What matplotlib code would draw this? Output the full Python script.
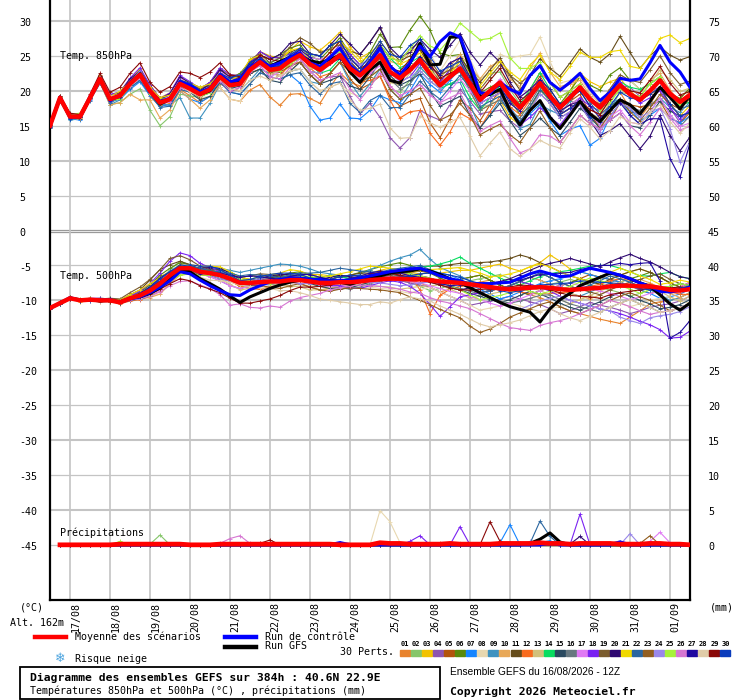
import numpy as np
import matplotlib
matplotlib.use("Agg")
import matplotlib.pyplot as plt
import matplotlib.patches as patches
import matplotlib.transforms as transforms
from matplotlib.lines import Line2D

# echeances toutes les 6h, 16/08 12Z -> 01/09 12Z
hours = np.arange(0, 385, 6)
p_hours = hours[1:]
day_hours = np.arange(12, 384, 24)
dates = ["17/08", "18/08", "19/08", "20/08", "21/08", "22/08", "23/08", "24/08",
         "25/08", "26/08", "27/08", "28/08", "29/08", "30/08", "31/08", "01/09"]

member_colors = ["#e8832e", "#86c66a", "#f2c200", "#8e55b0", "#b3540c", "#5a8a0a",
                 "#1685ff", "#e8d8b0", "#3e92c0", "#e8a858", "#654c1a", "#f86b1e",
                 "#d2c07a", "#08dd60", "#2a4a60", "#687880", "#e07af4", "#7a22f2",
                 "#7a5c2e", "#2e0870", "#f0d800", "#2a66a0", "#925e20", "#9a88ea",
                 "#a6f23a", "#d676d2", "#2008a0", "#e0cca8", "#8a0808", "#0a3cbc"]

# moyenne des scenarios
mean_850 = [15.0, 19.0, 16.3, 16.3, 19.0, 21.7, 18.8, 19.3, 21.0, 22.3, 20.0, 18.3, 18.8,
            21.0, 20.3, 19.5, 20.2, 22.0, 20.8, 21.0, 23.0, 24.1, 23.0, 23.2, 24.3, 25.1,
            23.8, 23.0, 24.0, 25.1, 23.2, 22.2, 23.5, 25.1, 22.7, 21.8, 23.0, 24.4, 22.4,
            20.8, 22.0, 23.2, 21.0, 18.7, 20.0, 21.2, 19.2, 17.6, 19.2, 21.1, 19.2, 17.6,
            19.0, 20.5, 18.8, 17.6, 19.3, 20.8, 19.5, 18.7, 20.0, 21.5, 19.6, 18.4, 19.4]
mean_500 = [-11.1, -10.4, -9.7, -10.0, -9.9, -10.0, -10.0, -10.3, -9.7, -9.3, -8.6, -7.6, -6.4,
            -5.4, -5.4, -5.9, -6.1, -6.4, -6.9, -7.5, -7.5, -7.4, -7.3, -7.3, -7.1, -7.1,
            -7.3, -7.5, -7.5, -7.4, -7.4, -7.3, -7.1, -7.0, -6.9, -6.9, -7.0, -7.0, -7.1,
            -7.3, -7.4, -7.5, -7.7, -7.9, -8.1, -8.3, -8.4, -8.3, -8.2, -8.1, -8.2, -8.4,
            -8.5, -8.4, -8.3, -8.2, -8.0, -7.9, -7.9, -8.0, -8.0, -8.2, -8.5, -8.6, -8.4]

# ecart de chaque perturbation a la moyenne, 850 hPa
dev_850 = [
    "0 .2 .1 -.2 .1 -.3 -.4 -.2 -.3 -.5 -.8 -.5 -.6  -.8 -1 -1.2 -1 -1.5 -2 -2.5 -2.9 -3.2 -3.9 -5.3 -4.8 -5.5  -4.9 -4.8 -3.5 -2.5 -2 -1.5 -1 -.5 0 .5 1 1.5 1  1.5 2 1.5 .5 -.5 -1 -1.5 -1 0 1 1.5 2 2.5  2 1.5 1 .5 0 -1 -2 -2.5 -2 -1 0 .5 1",  # 01
    ".3 .1 .2 0 .2 -.5 -.8 -1 -1.5 -2 -2.8 -3.3 -2.5  -1.5 -1 -.5 0 .5 .3 0 -.5 -1 -.5 0 .5 1  1.5 1 .5 0 -.5 -1 -1.5 -2 -2.5 -2 -1.5 -1 -.5  0 .5 1 2 3 2.5 1.5 1 .5 0 -.5 -1 -1.5  -2 -2.5 -3 -2.5 -2 -1 0 .5 1 .5 0 -.5 -1",  # 02
    "-.1 0 .2 .3 .1 .3 .5 .4 .6 .8 .5 .7 .9  1 .8 .5 .8 1 1.5 1.2 1 1.5 2 1.5 1.5 2  2.5 2.8 3 3.3 3 2.5 2 1.5 1 .5 0 .5 1  1.5 1 0 -1 -1.5 -2 -2.5 -3 -2.5 -2 -1 -.5 0  1 2 2.5 3 2 1 .5 0 -.5 -1 -1.5 -2 -1.5",  # 03
    "0 -.2 -.1 .1 0 .2 -.1 .3 .5 .2 -.3 -.5 -.2  0 .5 .3 0 -.5 -1 -.5 0 .5 1 .5 0 -.5  -1 -1.5 -2 -3 -4 -5.5 -5.3 -8.9 -9.4 -10 -9.7 -7.2 -6  -5 -4 -3 -2.5 -2 -3 -4 -3.5 -3 -2 -1.5 -1 -1.5  -2 -2.5 -3 -2 -1 0 1 .5 0 -1 -2 -3 -2",  # 04
    ".1 0 -.2 -.1 .2 0 .3 .1 -.2 .1 .4 .2 0  -.3 -.5 -.2 0 .3 .5 0 -.5 -1 -1.5 -1 -.5 -1  -1.5 -2 -1.5 -1 -1.5 -2 -2.5 -3 -3.5 -4 -4.5 -5.5 -7  -7.5 -6 -4.5 -3.5 -3 -2 -1 -.5 0 .5 1 .5 0  -.5 -1 -2 -3 -3.5 -2.5 -1.5 -1 -2 -3 -3.5 -3 -2.5",  # 05
    "0 .1 .3 .2 -.1 .2 .4 .5 .3 .6 .8 .5 .3  .5 .8 1 .7 .5 1 1.5 1.2 1 1.5 2 1.8 1.5  1 1.5 2 2.5 2 1.5 2 3 3.5 4.5 5.7 6.3 6.3  4.6 3 2 1.5 1 .5 0 -.5 -1 -1.5 -1 0 .5  1 1.5 2 2.5 3 2.5 2 1.5 1 .5 0 .5 1",  # 06
    "-.2 -.4 -.3 -.5 -.3 -.6 -.4 -.5 -.8 -1 -.7 -.5 -.8  -1 -1.5 -1.2 -1 -.5 -1 -1.5 -2 -1.5 -1 -1.5 -2 -4  -6 -7.2 -7.9 -7 -7.1 -6.2 -6.3 -5.8 -4 -3.5 -3 -2 -1.5  -1 -.5 0 .5 0 -.5 -1 -1.5 -2 -2.5 -3 -3.5 -4  -4.5 -5.5 -6.6 -4.4 -3 -2.5 -2 -3 -3.5 -4 -3.5 -3 -3",  # 07
    ".1 .3 .2 .1 .3 .5 .3 .2 .5 .3 .1 .4 .2  0 -.3 -.5 -1 -1.5 -2 -2.5 -2 -1.5 -1 -.5 -1 -2  -2.5 -3 -3.5 -4 -3.5 -3 -2.5 -2 -1 0 1 2 3  2 3 4 3.5 3 2.5 4 5.5 7.4 6 6.6 5 3.5  2.5 1.5 1 .5 0 1 2 1.5 1 .5 0 -1 -1.5",  # 08
    "-.3 -.2 -.5 -.3 -.2 -.5 -.8 -.6 -.5 -.8 -.5 -.3 -.8  -2 -4.2 -3.4 -2 -1 -.5 -1 -1.5 -1 -.5 -1 -1.5 -2  -2.5 -2 -1.5 -1 -2 -3 -2.5 -2 -2.5 -3 -2 -1 -.5  0 -1 -2 -3 -4 -3.5 -2.5 -2 -3 -4 -3 -2 -1  -.5 0 .5 0 -1 -2 -3 -3.5 -3 -2.5 -2 -1.5 -1",  # 09
    "0 -.3 -.1 -.4 -.2 -.6 -.8 -1 -1.5 -3.6 -1.3 -2.2 -1.5  -1 -1.5 -2 -1.5 -1 -.5 0 .5 1 .5 0 -.5 -1  -.5 0 .5 1 1.5 1 .5 1 1.5 2 2.5 2 1.5  1 1.5 2 2.5 3 3.5 3 2.5 3 4 4.3 3.5 3  2 1 .5 0 -.5 0 .5 1 1.5 1 .5 0 .5",  # 10
    ".2 .1 .3 .1 .2 .4 .6 .5 .3 .5 .8 .6 .5  .3 .5 .8 1 1.2 1 .8 1 1.5 1.8 1.5 1.2 1  1.5 2 2.5 2 2.5 3 3.5 3.9 3 2.5 2 1.5 1  .5 1 1.5 2 2.5 3 3.5 3 2.5 3 3.5 4 4.5  5 5.5 6 6.5 6 7 6 4.5 5 4.8 5.5 6 5.5",  # 11
    "-.1 .1 0 -.2 -.1 -.3 -.1 .2 0 -.3 -.5 -.3 -.1  0 .3 .5 .2 0 -.5 -1 -.5 0 -.5 -1 -.5 0  -.5 -1 -1.5 -1 -.5 -1 -2 -3 -4 -5.7 -6 -7.2 -8.5  -8.6 -7.9 -6.4 -5 -4 -3 -2 -1.5 -1 -.5 0 -.5 -1  -1.5 -2 -1.5 -1 -.5 0 .5 0 -.5 -1 -1.5 -2 -2.5",  # 12
    ".2 0 .1 .3 .2 .1 -.2 0 .2 .4 .2 0 .3  .5 .3 0 -.3 0 .5 1 .5 0 -.5 -1 -1.5 -1  -.5 0 .5 1 .5 0 -.5 -1 -1.5 -1 -.5 0 .5  1 1.5 1 0 -1 -2 -1.5 -1 -.5 0 .5 0 -.5  -1 -1.5 -2 -1.5 -1 -.5 0 .5 1 1.5 2 1.5 1",  # 13
    "0 .1 -.1 0 .2 .3 .1 0 -.2 0 .3 .5 .3  .2 0 -.3 0 .3 .5 .2 0 .5 1 1.5 1 .5  0 -.5 -1 -.5 0 .5 1 1.5 2 1.5 1 .5 0  -.5 -1 -1.5 -2 -1.5 -1 -.5 0 .5 1 1.5 1 .5  0 -.5 -1 -.5 0 .5 1 1.5 1 .5 0 -.5 -1",  # 14
    "-.2 -.1 0 -.3 -.1 -.2 0 .2 .1 -.2 -.4 -.2 -.1  -.3 -.5 -.8 -1 -.8 -.5 -.3 -.5 -1 -1.5 -2 -1.5 -1  -1.5 -2 -2.5 -3 -2.5 -2 -1.5 -1 -.5 -1 -1.5 -2 -2.5  -3 -3.5 -4 -4.5 -4 -3.5 -3 -3.5 -4 -4.5 -5 -4.5 -4  -3.5 -3 -2.5 -3 -3.5 -4 -4.5 -4 -3.5 -3 -2.5 -2 -2.5",  # 15
    ".1 -.1 .2 0 -.2 .1 .3 .2 -.1 -.3 -.2 .1 .3  .5 .3 .1 -.2 -.5 -.3 0 .3 .5 .3 0 -.3 -.5  -1 -.5 0 .5 1 .5 0 -.5 -1 -1.5 -2 -1.5 -1  -.5 0 -.5 -1 -1.5 -2 -2.5 -2 -1.5 -1 -.5 0 -.5  -1 -1.5 -2 -2.5 -3 -2.5 -2 -1.5 -2 -2.5 -3 -3.5 -3",  # 16
    ".2 .3 .1 .2 .4 .2 .1 .3 .5 .3 0 .2 .5  .8 .5 .3 .5 .8 1 .5 0 -.5 -1 -.5 0 .5  1 1.5 1 .5 0 -.5 -1 -1.5 -2 -2.5 -3 -3.5 -3  -2.5 -2 -1.5 -1 -.5 0 .5 1 1.5 1 .5 0 -.5  -1 -1.5 -2 -2.5 -3 -3.5 -4 -3.5 -3 -2.5 -3 -3.5 -4",  # 17
    ".3 .2 .4 .1 .3 .5 .7 .5 .8 1 .8 .6 .9  1.2 1 .8 1 1.3 1.5 1.2 1 1.5 1.8 1.5 1 .5  0 .5 1 1.5 2 1.5 1 .5 0 -.5 -1 -.5 0  .5 1 .5 0 -.5 -1 -1.5 -2 -2.5 -3 -3.5 -3 -2.5  -2 -1.5 -1 -.5 0 .5 0 -.5 -1 -1.5 -2 -2.5 -2",  # 18
    "-.1 .1 .2 .2 0 .2 .3 .1 .2 .4 .3 .1 0  .2 .5 .8 .5 .3 .5 1 1.5 1.2 1 1.5 2 2.5  3 2.5 2 1.5 1 .5 1 1.5 2 2.5 3 2.5 2  1.5 1 .5 1 1.5 2 2.5 3 3.5 3 2.5 2 1.5  1 .5 0 .5 1 1.5 2 2.5 3 3.5 3 2.5 2",  # 19
    "0 .2 .1 .3 .2 .4 .3 .5 .7 .5 .3 .5 .8  1 .8 .5 .8 1 1.2 1 .8 1 1.5 2 2.5 2  1.5 2 2.5 3 3.5 3 3.5 4 3.5 3 2.5 3 3.5  4 4.5 5 4.5 5 5.5 2.9 2 1.5 1 .5 0 -.5  -1 -2 -3 -4 -5 -5.5 -6 -7 -6.5 -5 -6 -7 -6",  # 20
    ".1 .3 .2 0 .3 .5 .4 .6 .4 .3 .5 .7 .6  .5 .8 1 .8 .5 .8 1.2 1.5 1 .5 1 1.5 1  .5 1 1.5 2 2.5 2 1.5 2 2.5 2 1.5 1 .5  0 .5 1 1.5 2 2.5 3 3.5 4 4.5 4 3.5 4  4.5 5 6 7.2 6.3 5 4 4.5 5 6 8.4 8.5 8.1",  # 21
    "-.3 -.5 -.3 -.1 -.4 -.6 -.5 -.3 -.6 -.8 -.5 -.7 -1  -.8 -.5 -.3 -.5 -.8 -1 -1.5 -2 -1.5 -1 -1.5 -2 -2.5  -3 -3.5 -3 -3.8 -5 -5.3 -4.9 -5.7 -5.1 -4.2 -3.5 -3 -2.5  -2 -1.5 -1 -.5 -1 -1.5 -2 -2.5 -2 -1.5 -1 -.5 0  .5 0 -.5 -1 -1.5 -2 -2.5 -2 -1.5 -1 -.5 -1 -1.5",  # 22
    ".2 .1 0 .2 .1 -.1 .2 .3 .1 0 -.2 .1 .2  0 -.3 -.5 -.2 0 .3 .5 .3 0 -.3 -.5 -.8 -1  -1.5 -2 -1.5 -1 -.5 -1 -1.5 -2 -2.5 -3 -3.5 -4 -4.5  -5 -5.5 -5 -4.5 -5 -5.5 -6 -5.5 -5 -4.5 -4 -4.5 -5  -4.5 -4 -3.5 -3 -2.5 -2 -2.5 -3 -2.5 -2 -1.5 -1 -.5",  # 23
    "0 .2 .3 .1 0 .3 .2 0 .3 .5 .3 .1 .2  .4 .6 .3 0 -.3 0 .3 .5 .8 .5 .3 0 -.5  -1 -.5 0 .5 1 1.5 1 .5 0 -.5 -1 -1.5 -1  -.5 0 .5 0 -.5 -1 -1.5 -2 -2.5 -2 -1.5 -1 -1.5  -2 -2.5 -3 -3.5 -3 -2.5 -2 -2.5 -3 -4 -5 -8.6 -6.6",  # 24
    ".4 .2 .3 .5 .3 .1 -.2 -.5 -.3 -.1 -.4 -.2 .1  .3 0 -.3 -.5 -.2 0 .3 .5 .2 0 -.3 -.5 -.2  0 .5 1 .5 0 .5 1 1.5 2 2.5 3 3.5 4  5 5.5 6.5 7.5 8.6 7.5 7.1 5.5 5.6 4 3 2 1.5  1 .5 0 -.5 -1 -.5 0 .5 1 .5 0 -.5 0",  # 25
    "-.2 0 -.1 .1 -.2 -.4 -.2 0 -.3 -.5 -.3 -.1 -.4  -.6 -.3 0 -.3 -.6 -.8 -.5 -.3 -.5 -1 -1.5 -1 -.5  -1 -1.5 -2 -2.5 -3 -3.5 -3 -2.5 -2 -2.5 -3 -3.5 -3  -2.5 -3 -3.5 -4 -4.5 -5 -5.5 -6 -6.5 -7.5 -7.4 -5.7 -5  -4.5 -4 -3.5 -3 -3.5 -4 -4.5 -5 -4.5 -4 -3.5 -4 -4.5",  # 26
    ".1 0 -.2 0 .1 .2 0 -.2 .1 .3 .1 -.1 .2  .3 .5 .3 .1 .3 .5 .8 1 .8 .5 .3 .5 .8  1 .5 0 -.5 0 .5 1 1.5 1 .5 0 .5 1  1.5 2 1.5 1 .5 0 -.5 -1 -.5 0 .5 1 .5  0 -.5 -1 -1.5 -2 -2.5 -3 -3.5 -4 -5.5 -9.3 -10.8 -6.9",  # 27
    ".3 .1 0 -.2 .1 .2 .4 .2 0 -.2 .1 .3 .1  -.2 -.5 -.3 0 -.3 -.5 -1 -1.5 -2 -1.5 -1 -1.5 -2  -2.5 -3 -3.5 -4 -4.5 -5 -6 -7 -8 -8.6 -9.7 -8 -7  -6 -6.5 -7 -7.5 -8 -7.5 -7.1 -7.5 -7 -7.5 -8.2 -7 -5.8  -5 -4.5 -4 -4.5 -5 -4.5 -4 -3.5 -3 -3.5 -4 -4.5 -4",  # 28
    ".1 .3 .5 .3 .5 .8 1 1.2 1.5 1.7 1.2 1.5 1.8  1.7 2.2 2.4 2.5 2 1.5 1 .5 1 1.5 1 .5 0  .5 1 1.5 2 1.5 1 .5 0 .5 1 1.5 2 1.5  1 .5 0 .5 1 1.5 2 1.5 1 .5 0 -.5 -1  -1.5 -2 -1.5 -1 -.5 0 .5 1 1.5 2 1.5 1 .5",  # 29
    "-.2 0 -.3 -.1 0 -.2 -.3 .1 .3 .1 -.2 0 .2  .5 .8 .5 .3 .5 1 1.3 1 .5 .3 .5 .8 1  1.5 2 2.5 2 1.5 1 1.5 2 2.5 3 3.5 3 2.5  2 1.5 1 .5 0 -.5 -1 -.5 0 .5 0 -.5 -1  -1.5 -2 -2.5 -2 -1.5 -1 -.5 0 -.5 -1 -1.5 -2 -2.5",  # 30
]
ctrl_dev_850 = "0 .1 -.1 0 .1 0 -.2 .1 .2 0 -.1 .2 .1  .3 .5 .3 .2 .3 .5 .6 .4 .2 .5 .8 .5 .3  .2 .5 .8 1 .5 .2 .5 1 .8 .5 1 2 2.5  6.2 6.3 4.5 3 1 -.4 0 1 2 3 2.5 2 2.5  2.2 2 1.5 1 .5 1 2 3 4 5 4.5 4.3 1.1"
gfs_dev_850 = "0 0 .1 -.1 0 .1 -.1 0 .2 .1 0 -.2 0  .2 .3 0 -.2 0 .3 .5 .3 0 .5 1 .5 0  .5 1 .5 0 -.5 -1 -.5 -1 -1.2 -.7 1 2.4 1.3  3 5.7 4.5 2 .5 -.5 -1 -2 -2.5 -2 -2.5 -3 -3  -2.5 -2 -2.1 -2 -2.1 -2.1 -1.5 -2 -1.5 -1 -.5 -1 0"

# ecart a la moyenne, 500 hPa
dev_500 = [
    "0 .1 -.1 .2 0 -.2 .1 .3 .1 -.2 -.5 -.8 -1  -.5 0 .5 .3 0 -.3 -.5 -.2 0 .3 .5 .2 0  -.3 -.5 -.8 -1 -.5 0 .5 1 .8 .5 0 -.5 -1  -1.5 -1 -.5 0 .5 1 .5 0 -.5 -1 -1.5 -2 -2.5  -3 -3.5 -4 -4.5 -5 -5.4 -4.5 -3.5 -2.5 -2 -1.5 -1 -.5",  # 01
    ".1 0 .2 .1 -.1 .1 .3 .2 -.1 -.3 -.2 .3 .8  1 .5 0 -.3 -.5 -.2 0 .3 .5 .8 1 .8 .5  .2 0 -.3 -.5 -.2 0 .3 .5 .2 -.2 -.5 -1 -1.5  -1 -.5 0 .5 1 1.5 2 1.5 1 .5 0 .5 1  1.5 1 .5 0 -.5 -1 -1.5 -1 -.5 0 .5 1 .5",  # 02
    "-.1 .1 0 -.2 .1 .2 0 -.1 .2 .5 .8 1 .5  .3 0 -.2 0 .3 .5 .8 1 .8 .5 .3 .5 .8  1 1.2 1 .8 .5 .8 1 1.3 1.5 1.2 1 .8 1  1.2 1.5 1.8 2 2.5 3 3.5 3 2.5 3 3.5 4.7 4  3 2.5 2 1.5 1 1.5 2 2.5 2 1.5 1 .5 1",  # 03
    "0 -.1 .1 0 -.2 -.1 .1 .2 0 -.3 -.5 -.3 0  .2 0 -.3 -.5 -.8 -1 -.8 -.5 -.3 0 .3 .5 .3  0 -.3 -.5 -.3 0 .3 .5 .3 0 -.3 -.5 -.8 -1  -1.5 -2 -2.5 -3 -2.5 -2 -1.5 -1 -1.5 -2 -2.5 -3 -3.5  -3 -2.5 -2 -2.5 -3 -3.5 -4 -3.5 -3 -2.5 -2 -1.5 -1",  # 04
    ".1 0 -.1 .1 .2 0 -.2 0 .2 .1 -.2 -.5 -.3  0 .3 .5 .3 0 -.2 -.5 -.3 0 .2 .5 .3 0  -.2 -.5 -.3 0 .3 .5 .8 .5 .2 0 -.3 -.5 -.2  0 .3 .5 1 1.5 1 .5 0 -.5 -1 -.5 0 .5  1 1.5 2 1.5 1 .5 0 -.5 -1 -.5 0 .5 1",  # 05
    "0 .2 .1 0 .1 .3 .2 0 .3 .5 .8 1.2 1  .8 .5 .3 .5 .8 1 .8 .5 .3 .5 .8 1 1.2  1 .8 .5 .8 1 1.3 1.5 1.8 2 2.3 2 1.5 1  .5 0 .5 1 1.5 1 .5 0 -.5 -1 -.5 0 .5  1 1.5 1 .5 0 .5 1 1.5 2 1.5 1 .5 0",  # 06
    "-.1 0 .1 -.1 0 .2 .1 -.1 0 .2 .5 .3 0  -.3 -.5 -.3 0 .3 .5 .3 0 -.3 -.5 -.3 0 .3  .5 .8 1 .8 .5 .3 0 .3 .5 .8 1 1.3 1.5  1.2 1 .5 0 -.5 -1 -1.5 -1 -.5 0 .5 1 1.5  2 2.5 2 1.5 1 .5 0 -.5 -1 -1.5 -1 -.5 0",  # 07
    ".2 .1 0 .2 .1 -.1 0 .2 .1 -.2 -.8 -1.5 -1.2  -.8 -.5 -.3 0 .3 .5 .3 0 -.3 -.5 -.8 -1 -.8  -.5 -.3 0 -.3 -.5 -.8 -1 -1.3 -1.5 -1.8 -2 -1.5 -1  -1.5 -2 -2.5 -3 -3.5 -3 -2.5 -2 -2.5 -3 -3.5 -3 -2.5  -2 -1.5 -1 -1.5 -2 -2.5 -3 -2.5 -2 -1.5 -1 -1.5 -2",  # 08
    "-.2 -.1 0 .1 -.1 0 .2 .1 0 .3 .6 .8 .6  .5 .3 .5 .8 1 1.2 1.5 1.8 2 2.2 2.5 2.2 2  1.8 1.5 1.3 1 .8 1 1.5 2 2.5 3 3.5 4.3 3  2 1.5 1 .5 0 -.5 0 .5 1 1.5 1 .5 0  -.5 -1 -.5 0 .5 1 .5 0 -.5 -1 -1.5 -1 -.5",  # 09
    ".1 0 -.1 0 .1 -.1 0 .1 -.2 -.5 -1 -1.5 -1.2  -1 -.8 -.5 -.3 0 -.3 -.5 -.8 -1 -.8 -.5 -.3 0  .3 .5 .3 0 -.3 -.5 -.3 0 .3 .5 .8 .5 .3  0 -.5 -1 -1.5 -1 -.5 0 .5 1 1.5 1 .5 0  -.5 -1 -1.5 -1 -.5 0 .5 1 .5 0 -.5 -1 -.5",  # 10
    "0 .1 .2 0 -.1 0 .2 .3 .5 .8 1.5 2 1.5  1 .5 .3 .5 .8 .5 .3 0 .3 .5 .8 1 .8  .5 .3 .5 .8 1 1.2 1 .8 1 1.2 1.5 1.8 2  2.2 2.5 2.8 3 3.3 3.6 4 4.4 4.8 4.3 3.5 3 2.5  2 1.5 1 .5 1 1.5 2 2.5 2 1.5 1 .5 0",  # 11
    "-.1 0 .1 -.1 0 .1 0 -.2 -.4 -.6 -.8 -1 -.8  -.5 -.3 0 .2 0 -.2 -.5 -.8 -1 -.8 -.5 -.3 -.5  -.8 -1 -.8 -.5 -.3 0 .3 .5 .8 1 .5 -1.5 -4.8  -2 -1 -.5 0 .5 .3 0 -.3 -.5 -.8 -1 -.8 -.5  -.3 0 .3 .5 .8 1 .8 .5 .3 0 -.3 -.5 -.8",  # 12
    ".1 .2 0 -.1 .1 0 -.1 .1 .2 0 -.3 -.2 .2  .5 .3 0 -.2 -.5 -.8 -1 -.8 -.5 -.3 -.5 -.8 -1  -1.2 -1 -.8 -.5 -.3 -.5 -.8 -1 -1.2 -1.5 -1.2 -1 -.8  -.5 -1 -1.5 -2 -1.5 -1 -.5 0 .5 0 -.5 -1 -1.5  -2 -1.5 -1 -.5 0 .5 1 .5 0 -.5 -1 -1.5 -1",  # 13
    "0 -.1 .1 0 .1 .2 0 -.1 .1 .3 .5 .3 0  -.2 0 .2 .5 .3 0 .2 .5 .8 1 .8 .5 .3  .5 .8 1 .8 .5 .3 .5 .8 1 1.2 1.5 1.8 2  2.5 3 3.7 3 2.5 2 1.5 1 .5 1 1.5 2 2.5  2.8 3 3.2 3.2 3 2.5 2 1.5 1.5 2 2.5 2 1.5",  # 14
    "-.1 0 .1 0 -.1 .1 .2 0 -.2 -.4 -.3 0 .3  .5 .3 0 -.3 -.5 -.3 0 .3 .5 .8 .5 .3 0  -.3 -.5 -.8 -1 -.8 -.5 -.3 0 .3 .5 .3 0 -.3  -.5 -.8 -1 -1.3 -1.5 -1.8 -2 -1.5 -1 -.5 -1 -1.5 -2  -2.5 -3 -2.5 -2 -1.5 -1 -1.5 -2 -2.5 -3 -2.5 -2 -1.5",  # 15
    "0 .1 0 .1 0 -.1 -.2 0 .1 .2 0 -.3 -.5  -.3 0 .3 .5 .3 0 -.3 -.5 -.3 0 .3 .5 .3  0 -.3 -.5 -.8 -1 -.8 -.5 -.3 0 .3 .5 .3 0  -.3 -.5 -.8 -1 -1.2 -1.5 -1.8 -2 -1.8 -1.5 -1.2 -1 -1.5  -2 -2.5 -3 -3.5 -3 -2.5 -2 -2.5 -3 -3.5 -3 -2.5 -2",  # 16
    ".1 0 -.1 0 .1 0 .2 .1 -.1 -.3 -.6 -1 -.8  -.6 -.5 -.3 -.5 -.8 -1 -.8 -.5 -.3 0 .3 .5 .3  0 -.3 -.5 -.5 -.3 0 .3 .5 .3 0 -.3 -.5 -.8  -1 -1.3 -1.5 -1.8 -2 -2.3 -2.5 -2 -1.5 -1 -.5 0 .5  1 .5 0 -.5 -1 -1.5 -2 -1.5 -1 -.5 0 .5 1",  # 17
    ".1 .2 0 .1 .2 .3 .2 0 .3 .6 1 1.5 2  2.2 1.8 1.2 .8 .5 .3 0 -.3 -.5 -.3 0 .3 .5  .3 0 -.3 -.5 -.8 -1 -.8 -.5 -.3 -.5 -1 -2 -3.5  -5 -3.5 -2 -1.5 -1 -.5 0 .5 1 .5 0 -.5 -1  -1.5 -2 -2.5 -3 -3.5 -4 -4.5 -5 -5.5 -6 -6.9 -6.7 -6",  # 18
    "0 .1 .2 .1 0 .2 .3 .5 .8 1.2 1.6 2 2.4  1.8 1.2 .8 .5 .3 .5 .8 1 1.2 1 .8 .5 .3  0 .3 .5 .8 1 .8 .5 .3 .5 .8 1 1.2 1  .8 .5 0 -.5 -1 -.5 0 .5 1 1.5 2 1.5 1  .5 0 -.5 -1 -.5 0 .5 1 1.5 2 1.5 1 .5",  # 19
    "0 -.1 0 .1 0 .1 0 -.1 .1 .3 .5 .3 .1  0 .3 .5 .8 1 .8 .5 .3 .5 .8 1 .8 .5  .3 .5 .8 1 .8 .5 .3 .5 .8 1 .8 .5 .3  0 -.5 -1 -.5 0 .5 1 1.5 2 2.5 3 3.5 4  4.5 4 3.5 3 3.5 4 4.5 4 3.5 3 2.5 2 1.5",  # 20
    ".1 0 .1 .2 .1 0 .1 .3 .5 .8 1 .8 .5  .3 .5 .8 1 1.2 1 .8 .5 .8 1 1.2 1.5 1.3  1 .8 1 1.2 1.5 1.8 2 1.8 1.5 1.2 1 1.3 1.5  1.8 2 2.2 2 1.8 1.5 1.8 2.2 2.5 3 3.3 3 2.5  2 1.5 1 1.5 2 2.5 2 1.5 1 .5 1 1.5 1",  # 21
    "-.2 -.1 0 -.1 -.2 0 .1 -.1 -.3 -.5 -.8 -.5 -.3  0 .3 .5 .3 .5 .8 1 1.2 1 .8 .5 .8 1  1.2 1.5 1.8 2 1.8 1.5 1.2 1 1.3 1.5 1.8 2 1.5  1 .5 0 -.5 -1 -.5 0 .5 1 1.5 2 1.5 1  .5 0 .5 1 1.5 1 .5 0 -.5 0 .5 1 .5",  # 22
    "0 .1 -.1 0 .1 0 -.2 -.1 0 -.2 -.4 -.3 -.1  0 -.2 -.5 -.3 0 .2 0 -.3 -.5 -.8 -1 -.8 -.5  -.8 -1 -1.2 -1 -.8 -1 -1.3 -1.5 -1.8 -2 -2.5 -3 -3.5  -4 -4.5 -5 -6 -6.7 -6 -5 -4 -3.5 -3 -2.5 -2 -2.5  -3 -3.5 -3 -2.5 -2 -1.5 -1 -1.5 -2 -2.5 -3 -2.5 -2",  # 23
    ".1 0 -.1 .1 0 -.1 .1 .2 0 -.2 -.5 -.3 -.1  0 .2 0 -.3 -.5 -.3 0 .3 .5 .3 0 -.3 -.5  -.3 0 .3 .5 .3 0 -.3 -.5 -.8 -1 -.8 -.5 -.3  0 .3 0 -.5 -1 -1.5 -2 -2.5 -3 -2.5 -2 -1.5 -1  -1.5 -2 -2.5 -3 -3.5 -4.5 -5 -5.3 -4.5 -4 -3.5 -3 -2.5",  # 24
    ".2 .1 0 .1 .2 .1 0 .2 .3 .1 -.2 -.5 -.8  -1 -.8 -.5 -.3 0 .3 .5 .3 0 -.3 0 .3 .5  .8 .5 .3 0 -.3 0 .3 .5 .8 1 .8 .5 .3  0 -.5 -1 -1.5 -2 -1.5 -1 -.5 0 -.5 -1 -.5 0  .5 1 1.5 1 .5 0 -.5 -1 -.5 0 .5 1 .5",  # 25
    "-.1 0 .1 0 -.1 0 .1 0 -.2 -.5 -.8 -1.2 -1.5  -1.9 -1.8 -1.9 -2.2 -2.8 -3.8 -3 -3.5 -3.7 -3.5 -3.7 -3 -2.5  -2 -1.5 -1 -.8 -.5 -.5 -.8 -1 -1.3 -1.5 -1.8 -2 -2.5  -2.8 -3 -3.3 -3.5 -4 -4.5 -5 -5.5 -5.8 -6.1 -5.5 -5 -4.5  -4 -3.5 -3 -2.5 -2 -2.5 -3 -3.5 -4 -3.5 -3 -2.5 -2",  # 26
    "0 .1 0 -.1 0 .1 .2 .1 0 .2 .5 .8 .5  .3 0 -.3 0 .3 .5 .8 1 .8 .5 .3 .5 .8  1 .8 .5 .3 .5 .8 1 1.2 1 .8 .5 .3 0  -.3 -.5 -.3 0 .3 .5 .8 1 1.2 1.5 1.8 2 2.3  2.5 2.8 3 3.2 3 3.2 3 3.3 3.4 1 -6.9 -6 -4.5",  # 27
    ".1 0 .1 .2 0 -.1 0 .1 -.1 -.3 -.6 -.8 -.5  -.3 -.5 -.8 -1 -.8 -.5 -.3 -.5 -.8 -1 -1.3 -1.5 -1.8  -2 -2.3 -2.5 -2.8 -3 -3.3 -3.5 -3.2 -3.5 -3 -2.5 -2.8 -3  -3.5 -4 -4.5 -5 -5.5 -5.7 -5.2 -4.8 -4.5 -4 -3.5 -3 -3.5  -4 -4.5 -4 -3.5 -3 -2.5 -2 -2.5 -3 -3.5 -3 -2.5 -2",  # 28
    ".1 0 -.1 0 .1 0 -.1 0 .1 -.2 -.5 -.8 -1.2  -1.5 -1.8 -2 -2.3 -2.5 -2.8 -2.9 -2.9 -2.7 -2.5 -2 -1.5 -1  -.8 -.5 -.3 0 .3 .5 .8 1 .8 .5 .3 0 -.3  -.5 -.8 -1 -.8 -.5 -.3 0 .3 .5 .3 0 -.3 -.5  -.8 -1 -1.2 -1.5 -1.2 -1 -.8 -.5 -.3 0 .3 .5 .3",  # 29
    "-.1 0 .1 0 -.1 .1 .2 .1 0 .2 .4 .6 .5  .3 .5 .8 1 .8 .5 .3 .5 .8 1 1.2 1 .8  .5 .3 .5 .8 1 .8 .5 .3 0 .3 .5 .8 1  1.2 1 .8 .5 .3 0 -.3 -.5 -.3 0 .3 .5 .8  1 1.2 1 .8 .5 .3 0 -.3 -.5 -.3 0 .3 .5",  # 30
]
ctrl_dev_500 = "0 0 .1 0 -.1 0 .1 0 -.1 -.2 -.3 -.5 -.8  -.5 -.8 -1.2 -1.8 -2.2 -2.3 -1.8 -1 -.5 0 .3 .3 .3  .3 .5 .3 .2 .3 .5 .6 .8 1 1.2 1.5 1.6 1.2  .8 .5 .3 0 .3 .5 .8 1 1.5 2 2.3 2 1.8  2 2.5 2.9 2.5 2 1.5 1 .5 0 -.5 -.3 0 .3"
gfs_dev_500 = "0 0 0 .1 0 -.1 0 .1 0 -.2 -.4 -.6 -.5  -.3 -.5 -1 -1.5 -2 -2.5 -2.8 -2 -1.5 -1 -.5 -.3 0  .3 .5 .3 0 -.3 0 .3 .5 .8 1 1.2 1.5 1.3  1 .5 0 -.5 -1 -1.5 -2 -2.5 -3 -3.5 -5 -3 -1.5  -.5 .5 1 1.5 1.9 1.5 1 .5 0 -1 -2 -2.8 -2"

# precipitations (mm par 6h), moyenne puis episodes par perturbation
precip_mean = [0, 0, 0, 0, 0, 0, .1, .1, .1, .1, .1, .1, .1, 0, 0, 0,
               .1, .1, .1, .1, .1, .1, .1, .1, .1, .1, .1, .1, 0, 0, 0, 0,
               .3, .2, .2, .1, .1, .1, .1, .2, .1, .1, .1, .1, .2, .2, .2, .2,
               .3, .2, .2, .1, .2, .2, .2, .2, .1, .1, .1, .2, .2, .1, .1, 0]
precip_member = [25, 2, 2, 26, 26, 26, 26, 29, 29, 30, 8, 8, 8, 18, 18, 18, 12, 12, 18, 28, 28,
                 29, 29, 7, 7, 11, 11, 22, 22, 22, 24, 7, 7, 18, 20, 20, 22, 22, 24, 23, 23,
                 17, 17, 17]
precip_hour = [42, 60, 66, 102, 108, 114, 120, 126, 132, 174, 198, 204, 210, 198, 216, 222, 234, 240,
               246, 246, 252, 264, 270, 270, 276, 276, 282, 288, 294, 300, 288, 294, 300, 318, 312,
               318, 336, 342, 348, 354, 360, 360, 366, 372]
precip_mm = [.5, .1, 1.4, .2, .9, 1.3, .2, .2, .7, .3, 4.9, 3.3, .3, .3, .5, 1.3, .2, .2,
             2.6, .3, .2, 3.3, .5, .3, 2.9, .3, .2, .2, 3.4, 1.2, .5, .3, .6, 4.4, .1,
             1.2, .3, .4, 1.6, .2, 1.3, .5, 1.8, .3]
ctrl_p_hour = [174, 300, 342]
ctrl_p_mm = [.3, .3, .4]
gfs_p_hour = [288, 294, 300, 306]
gfs_p_mm = [.2, .8, 1.7, .4]


def parse(s, name):
    v = np.array([float(x) for x in s.split()])
    if len(v) != len(hours):
        raise ValueError(name + " : %d valeurs" % len(v))
    return v


def rain(hh, mm):
    r = np.zeros(len(p_hours))
    for h, m in zip(hh, mm):
        r[h // 6 - 1] = m
    return r


mean_850 = np.array(mean_850)
mean_500 = np.array(mean_500)
PREC0 = -45   # zero des precipitations sur l'axe gauche

MONO = "DejaVu Sans Mono"
W, H = 740, 700
fig = plt.figure(figsize=(W / 100, H / 100), dpi=100)
ax = fig.add_axes([50 / W, 100 / H, 640 / W, 600 / H])
PX = 6.985
ax.set_xlim(0, 384)
ax.set_ylim(-(600 - 230.5) / PX, 230.5 / PX)
ax.set_xticks([])
ax.set_yticks([])
ax.spines["top"].set_visible(False)
for s in ["left", "right", "bottom"]:
    ax.spines[s].set_linewidth(1.6)
    ax.spines[s].set_color("black")

# grille
for v in range(30, -50, -5):
    if v == 0:
        continue
    ax.axhline(v, color="#c4c4c4", lw=1.5 if v % 10 == 0 else 0.9, zorder=1)
ax.axhline(0.1, color="#9a9a9a", lw=0.9, zorder=1)
ax.axhline(-0.2, color="#9a9a9a", lw=0.9, zorder=1)
for t in day_hours:
    ax.axvline(t, color="#c4c4c4", lw=1.2, zorder=1)

mk = dict(marker="+", ms=3, mew=0.6)
for k in range(30):
    c = member_colors[k]
    ax.plot(hours, mean_850 + parse(dev_850[k], "850 m%d" % (k + 1)), color=c, lw=0.8, zorder=2, **mk)
    ax.plot(hours, mean_500 + parse(dev_500[k], "500 m%d" % (k + 1)), color=c, lw=0.8, zorder=2, **mk)
precip = np.zeros((30, len(p_hours)))
for m, h, mm in zip(precip_member, precip_hour, precip_mm):
    precip[m - 1, h // 6 - 1] = mm
for k in range(30):
    ax.plot(p_hours, PREC0 + precip[k], color=member_colors[k], lw=0.8, zorder=2, **mk)

# run GFS, controle, moyenne
ax.plot(hours, mean_850 + parse(gfs_dev_850, "gfs850"), color="black", lw=2.2, zorder=3)
ax.plot(hours, mean_500 + parse(gfs_dev_500, "gfs500"), color="black", lw=2.2, zorder=3)
ax.plot(p_hours, PREC0 + rain(gfs_p_hour, gfs_p_mm), color="black", lw=2.2, zorder=3)
ax.plot(hours, mean_850 + parse(ctrl_dev_850, "ctrl850"), color="#0000ff", lw=2.2, zorder=4)
ax.plot(hours, mean_500 + parse(ctrl_dev_500, "ctrl500"), color="#0000ff", lw=2.2, zorder=4)
ax.plot(p_hours, PREC0 + rain(ctrl_p_hour, ctrl_p_mm), color="#0000ff", lw=2.4, zorder=4)
ax.plot(hours, mean_850, color="#ff0000", lw=3.2, zorder=5)
ax.plot(hours, mean_500, color="#ff0000", lw=3.2, zorder=5)
ax.plot(p_hours, PREC0 + np.array(precip_mean), color="#ff0000", lw=3.4, zorder=5)

txt = dict(family=MONO, fontsize=7.2, color="black")


def ftext(x, y, s, **kw):
    fig.text(x / W, 1 - y / H, s, **kw)


ftext(60, 56, "Temp. 850hPa", va="center", **txt)
ftext(60, 276, "Temp. 500hPa", va="center", **txt)
ftext(60, 533, "Précipitations", va="center", **txt)

# graduations gauche (°C) et droite
tr = transforms.blended_transform_factory(fig.transFigure, ax.transData)
for v in range(30, -50, -5):
    ax.text(19 / W, v - 0.3, str(v), transform=tr, ha="left", va="center", **txt)
    ax.text(708 / W, v - 0.3, str(v + 45), transform=tr, ha="left", va="center", **txt)

# dates
trd = transforms.blended_transform_factory(ax.transData, fig.transFigure)
for t, d in zip(day_hours, dates):
    ax.text(t + 0.4, 1 - 602 / H, d, transform=trd, rotation=90, ha="left", va="top", **txt)

ftext(20, 607, "(°C)", va="center", **txt)
ftext(10, 623, "Alt. 162m", va="center", **txt)
ftext(710, 607, "(mm)", va="center", **txt)

# legende
for x0, y0, c in [(35, 637, "#ff0000"), (225, 637, "#0000ff"), (225, 647, "black")]:
    fig.add_artist(Line2D([x0 / W, (x0 + 31) / W], [1 - y0 / H, 1 - y0 / H], color=c, lw=3.2,
                          transform=fig.transFigure))
ftext(75, 637, "Moyenne des scénarios", va="center", **txt)
ftext(265, 637, "Run de contrôle", va="center", **txt)
ftext(265, 646, "Run GFS", va="center", **txt)
ftext(60, 658, "\u2744", ha="center", va="center", family="DejaVu Sans", fontsize=9, color="#4aa3df")
ftext(75, 659, "Risque neige", va="center", **txt)
ftext(340, 652, "30 Perts.", va="center", **txt)

for k, c in enumerate(member_colors):
    x0 = 400 + k * 11.05
    fig.add_artist(patches.Rectangle((x0 / W, 1 - 656 / H), 10 / W, 6 / H, color=c,
                                     transform=fig.transFigure))
    ftext(x0 + 5, 644, "%02d" % (k + 1), ha="center", va="center", family=MONO,
          fontsize=5, fontweight="bold")

fig.add_artist(patches.Rectangle((20 / W, 1 - 699 / H), 420 / W, 32 / H, fill=False, lw=1.3,
                                 ec="black", transform=fig.transFigure))
ftext(30, 678, "Diagramme des ensembles GEFS sur 384h : 40.6N 22.9E", va="center",
      family=MONO, fontsize=8.2, fontweight="bold")
ftext(30, 691, "Températures 850hPa et 500hPa (°C) , précipitations (mm)", va="center", **txt)
ftext(450, 672, "Ensemble GEFS du 16/08/2026 - 12Z", va="center", family="Liberation Sans",
      fontsize=7.3)
ftext(450, 692, "Copyright 2026 Meteociel.fr", va="center", family=MONO, fontsize=8.2,
      fontweight="bold")

fig.savefig("out.png", dpi=100)
